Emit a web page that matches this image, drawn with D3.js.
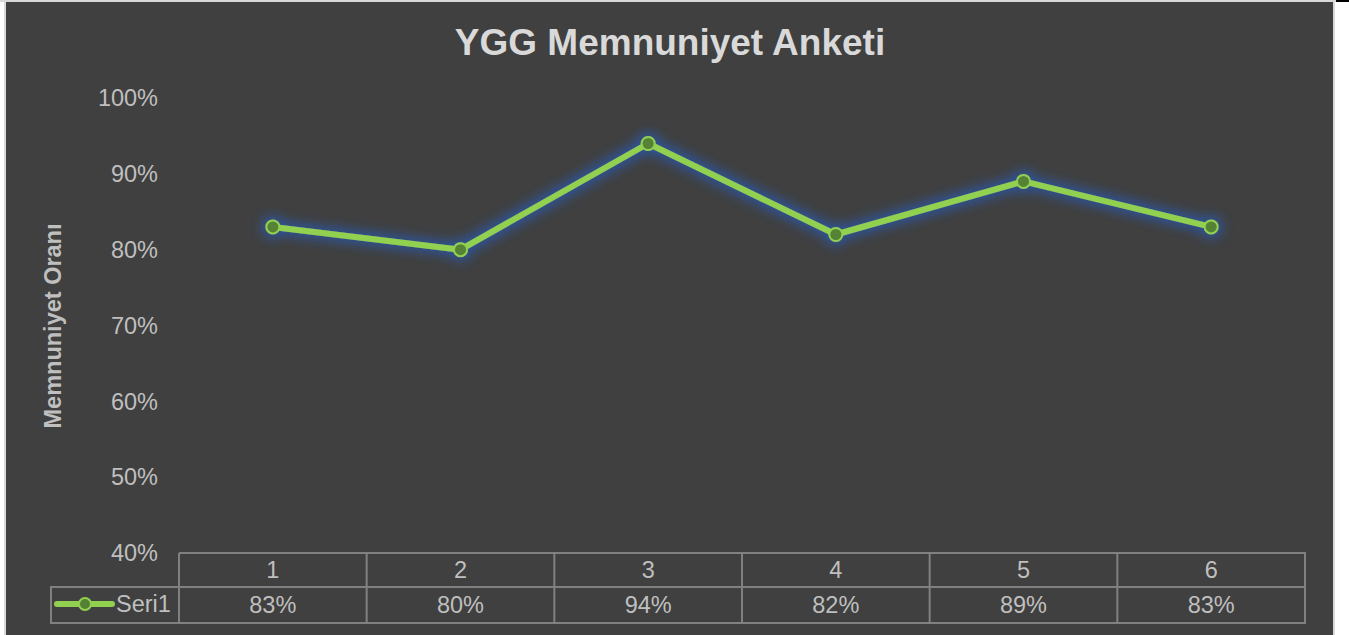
<!DOCTYPE html>
<html>
<head>
<meta charset="utf-8">
<script src="https://cdn.jsdelivr.net/npm/d3@7"></script>
<style>
  html, body { margin: 0; padding: 0; background: #fff; }
  svg { display: block; font-family: "Liberation Sans", Arial, sans-serif; }
</style>
</head>
<body>
<div id="chart"></div>
<script>
const width = 1349, height = 635;

// data
const categories = ["1", "2", "3", "4", "5", "6"];
const values = [0.83, 0.80, 0.94, 0.82, 0.89, 0.83];
const seriesName = "Seri1";
const yTicks = [0.4, 0.5, 0.6, 0.7, 0.8, 0.9, 1.0];

const svg = d3.select("#chart").append("svg")
  .attr("width", width)
  .attr("height", height);

// glow filter
const defs = svg.append("defs");
const glow = defs.append("filter").attr("id", "glow")
  .attr("x", "-20%").attr("y", "-50%").attr("width", "140%").attr("height", "200%");
glow.append("feMorphology").attr("in", "SourceAlpha").attr("operator", "dilate").attr("radius", 3).attr("result", "dil");
glow.append("feGaussianBlur").attr("in", "dil").attr("stdDeviation", 6).attr("result", "blur");
glow.append("feFlood").attr("flood-color", "#2a57a8").attr("flood-opacity", 0.9);
glow.append("feComposite").attr("in2", "blur").attr("operator", "in").attr("result", "glowc");
const merge = glow.append("feMerge");
merge.append("feMergeNode").attr("in", "glowc");
merge.append("feMergeNode").attr("in", "SourceGraphic");

// background and frame
svg.append("rect").attr("x", 0).attr("y", 0).attr("width", 1336).attr("height", 2).attr("fill", "#d9d9d9");
svg.append("rect").attr("x", 4).attr("y", 0).attr("width", 1331).attr("height", height).attr("fill", "#d9d9d9");
svg.append("rect").attr("x", 6).attr("y", 2).attr("width", 1327).attr("height", height - 2).attr("fill", "#404040");
svg.append("rect").attr("x", 1336).attr("y", 0).attr("width", 13).attr("height", 2).attr("fill", "#000");

const x0 = 179, x1 = 1305;
const x = d3.scaleBand().domain(categories).range([x0, x1]);
const y = d3.scaleLinear().domain([0.4, 1.0]).range([553, 98]);

// title
svg.append("text")
  .attr("x", 670).attr("y", 55)
  .attr("text-anchor", "middle")
  .attr("font-size", 37).attr("font-weight", "bold")
  .attr("fill", "#d9d9d9")
  .text("YGG Memnuniyet Anketi");

// y axis
const yAxis = svg.append("g")
  .attr("transform", `translate(158,0)`)
  .call(d3.axisLeft(y).tickValues(yTicks).tickFormat(d3.format(".0%")).tickSize(0).tickPadding(0));
yAxis.select(".domain").remove();
yAxis.selectAll("text")
  .attr("font-size", 23.5)
  .attr("font-family", "Liberation Sans, Arial, sans-serif")
  .attr("fill", "#bfbfbf")
  .attr("dy", "0.33em");

svg.append("text")
  .attr("transform", "translate(61,326) rotate(-90)")
  .attr("text-anchor", "middle")
  .attr("font-size", 23.5).attr("font-weight", "bold")
  .attr("fill", "#bfbfbf")
  .text("Memnuniyet Oranı");

// data table
const rowTop = 553, rowMid = 587, rowBot = 623, legLeft = 51;
const grid = svg.append("g").attr("stroke", "#808080").attr("stroke-width", 2).attr("fill", "none");
grid.append("path").attr("d", `M${x0},${rowTop}H${x1}V${rowBot}H${legLeft}V${rowMid}H${x1}`);
categories.forEach((c, i) => {
  grid.append("line")
    .attr("x1", x(c)).attr("x2", x(c))
    .attr("y1", rowTop).attr("y2", rowBot);
});

const tbl = svg.append("g").attr("font-size", 23.5).attr("fill", "#bfbfbf").attr("text-anchor", "middle");
tbl.selectAll(".cat").data(categories).join("text")
  .attr("class", "cat")
  .attr("x", d => x(d) + x.bandwidth() / 2)
  .attr("y", 578)
  .text(d => d);
tbl.selectAll(".val").data(values).join("text")
  .attr("class", "val")
  .attr("x", (d, i) => x(categories[i]) + x.bandwidth() / 2)
  .attr("y", 613)
  .text(d => d3.format(".0%")(d));

// legend key
svg.append("line")
  .attr("x1", 57).attr("x2", 112).attr("y1", 604).attr("y2", 604)
  .attr("stroke", "#92d050").attr("stroke-width", 6).attr("stroke-linecap", "round");
svg.append("circle")
  .attr("cx", 85).attr("cy", 604).attr("r", 6)
  .attr("fill", "#548235").attr("stroke", "#92d050").attr("stroke-width", 2);
svg.append("text")
  .attr("x", 116).attr("y", 612)
  .attr("font-size", 23.5).attr("fill", "#bfbfbf")
  .text(seriesName);

// series
const pts = values.map((v, i) => [x(categories[i]) + x.bandwidth() / 2, y(v)]);
const series = svg.append("g").attr("filter", "url(#glow)");
series.append("path")
  .attr("d", d3.line()(pts))
  .attr("fill", "none")
  .attr("stroke", "#92d050")
  .attr("stroke-width", 6)
  .attr("stroke-linejoin", "round")
  .attr("stroke-linecap", "round");
series.selectAll("circle").data(pts).join("circle")
  .attr("cx", d => d[0]).attr("cy", d => d[1])
  .attr("r", 6.5)
  .attr("fill", "#548235")
  .attr("stroke", "#92d050")
  .attr("stroke-width", 2);
</script>
</body>
</html>
